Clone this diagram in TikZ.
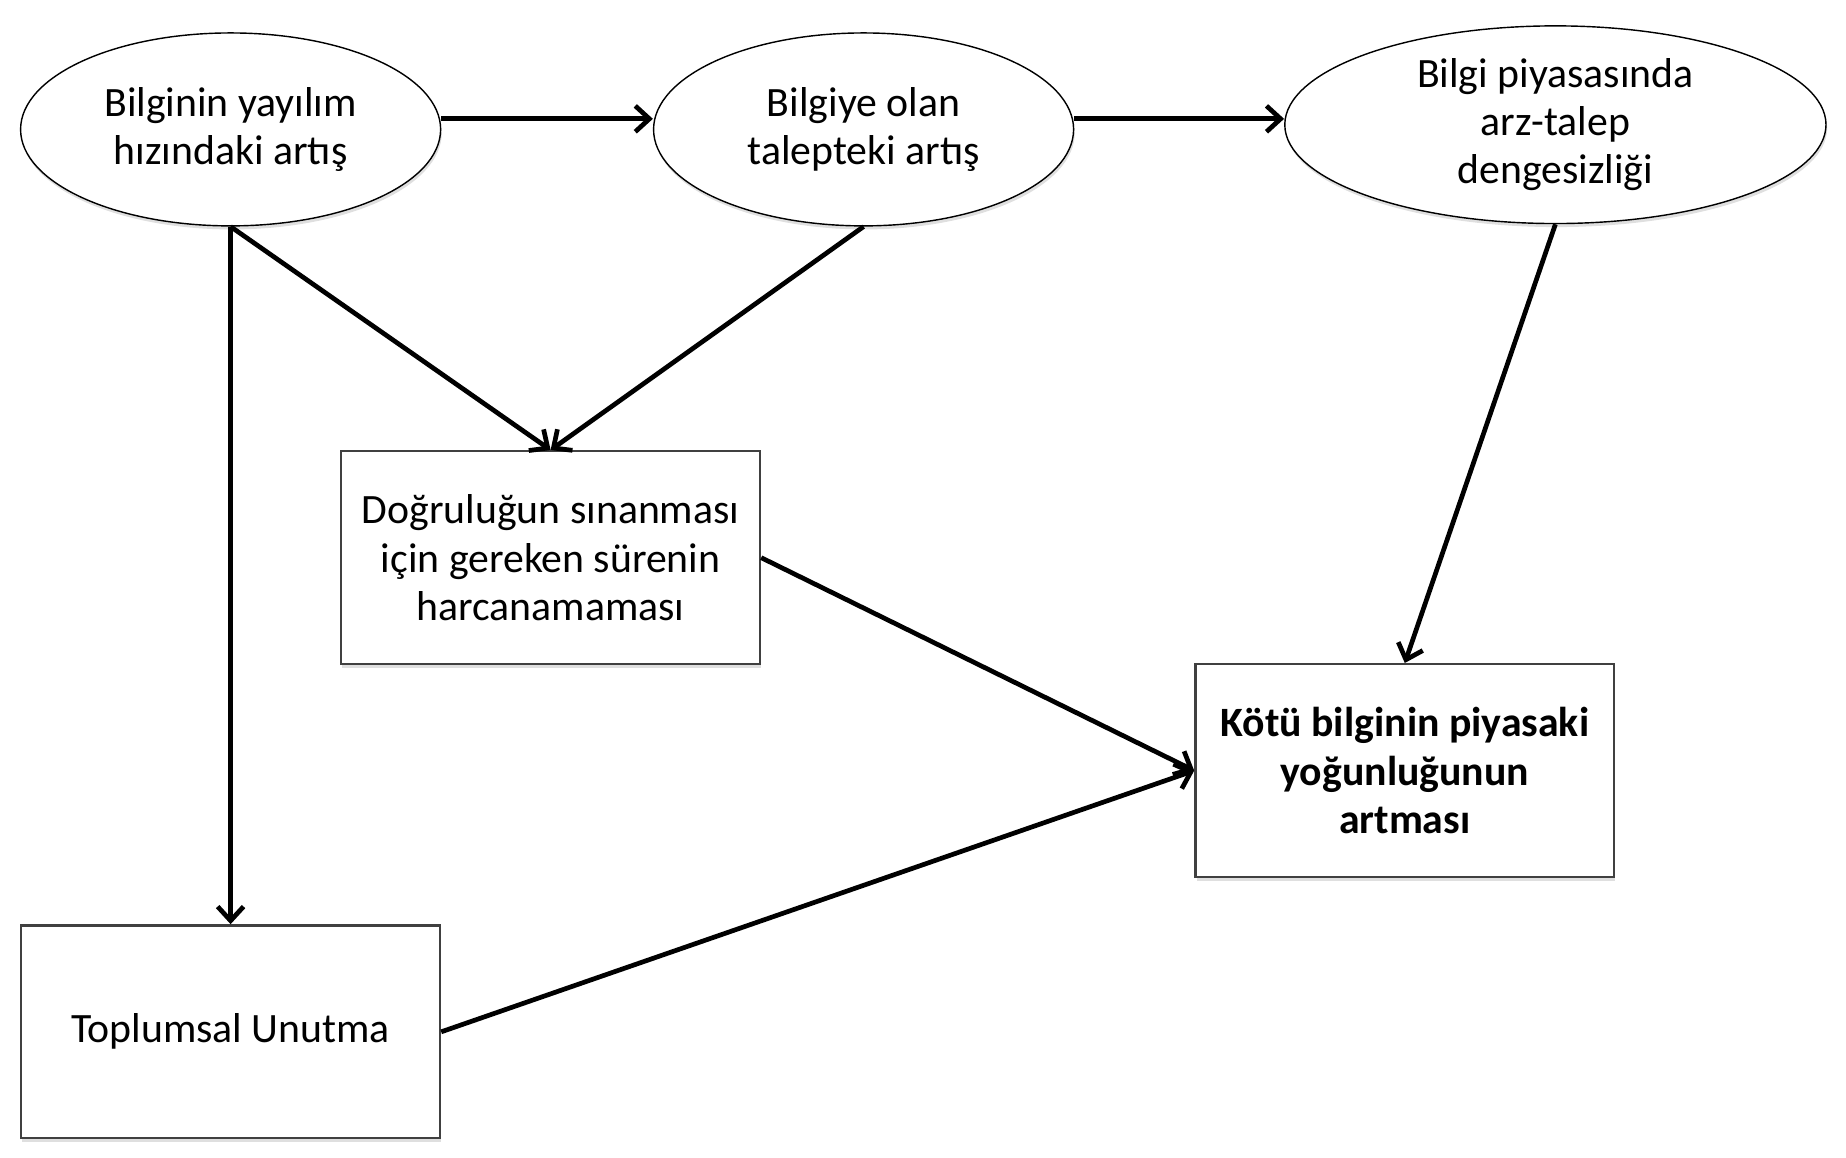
\documentclass[tikz,border=0pt]{standalone}
\usepackage{fontspec}
\setmainfont{Carlito}
\usetikzlibrary{shapes.geometric,arrows.meta,shadows}

\tikzset{
  factor/.style={ellipse, draw, line width=1.2pt, fill=white,
    minimum width=357pt, minimum height=164pt,
    drop shadow={shadow xshift=1pt, shadow yshift=-3pt, opacity=0.25}},
  outcome/.style={rectangle, draw=black!75, line width=2pt, fill=white,
    minimum width=356pt, minimum height=181pt,
    drop shadow={shadow xshift=1pt, shadow yshift=-3pt, opacity=0.25}},
  link/.style={->, line width=4pt, >={Straight Barb[length=12pt,width=22pt]}}
}

\begin{document}
\begin{tikzpicture}[x=1pt, y=-1pt,
    every node/.style={align=center, inner sep=0pt, font=\fontsize{35.5}{41}\selectfont}]
      \useasboundingbox (0,0) rectangle (1569,984);

      \node[factor] (spread) at (196,110) {Bilginin yayılım\\hızındaki artış};
      \node[factor] (demand) at (734,110) {Bilgiye olan\\talepteki artış};
      \node[factor, minimum width=460pt, minimum height=168pt] (imbalance) at (1322,106)
        {Bilgi piyasasında\\arz-talep\\dengesizliği};
      \node[outcome] (verify) at (468,474) {Doğruluğun sınanması\\için gereken sürenin\\harcanamaması};
      \node[outcome, font=\bfseries\fontsize{35.5}{41}\selectfont] (badinfo) at (1194,655)
        {Kötü bilginin piyasaki\\yoğunluğunun\\artması};
      \node[outcome] (forget) at (196,877) {Toplumsal Unutma};

      \path ([yshift=9pt]spread.east) edge[link] ([yshift=9pt]demand.west);
      \path ([yshift=9pt]demand.east) edge[link] ([yshift=5pt]imbalance.west);
      \path (spread.south) edge[link] (forget.north);
      \path (spread.south) edge[link] (verify.north);
      \path (demand.south) edge[link] (verify.north);
      \path (imbalance.south) edge[link] (badinfo.north);
      \path (verify.east) edge[link] (badinfo.west);
      \path (forget.east) edge[link] (badinfo.west);
\end{tikzpicture}
\end{document}
